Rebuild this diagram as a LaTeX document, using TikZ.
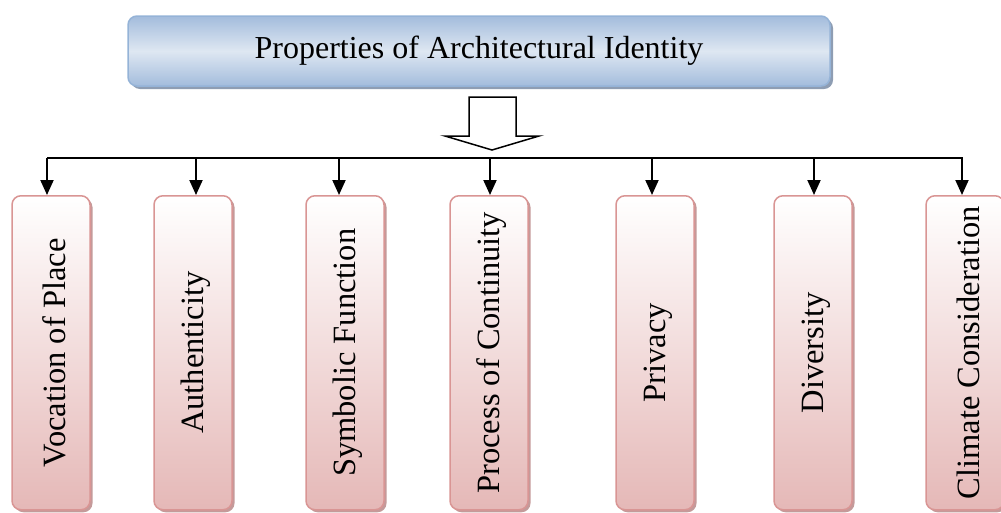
\documentclass[tikz,border=0pt]{standalone}
\usepackage{fontspec}
\setmainfont{Liberation Serif}
\usetikzlibrary{arrows.meta,shadows}
\definecolor{titleedge}{HTML}{95B3D7}
\definecolor{titledark}{HTML}{A3BCDC}
\definecolor{titlelight}{HTML}{DEE7F2}
\definecolor{titleshadow}{HTML}{8E9DB3}
\definecolor{propedge}{HTML}{D99594}
\definecolor{propfill}{HTML}{E5B8B7}
\definecolor{propshadow}{HTML}{C49A9A}
\begin{document}
\begin{tikzpicture}[x=1pt,y=-1pt,
  titlebox/.style={draw=titleedge,line width=1.5pt,rounded corners=9pt,
    minimum width=702pt,minimum height=70pt,inner sep=0pt,
    top color=titledark,bottom color=titledark,middle color=titlelight,
    drop shadow={shadow xshift=3pt,shadow yshift=-3pt,fill=titleshadow,opacity=1},
    font=\fontsize{32}{36}\selectfont},
  propbox/.style={draw=propedge,line width=1.5pt,rounded corners=9pt,
    minimum width=78pt,minimum height=314pt,inner sep=0pt,anchor=north,
    top color=white,bottom color=propfill,
    drop shadow={shadow xshift=2.5pt,shadow yshift=-2.5pt,fill=propshadow,opacity=1}},
  proptext/.style={rotate=90,font=\fontsize{32.5}{36}\selectfont,inner sep=0pt},
  feed/.style={line width=2pt,-{Triangle[length=15pt,width=13pt]}},
  hollow/.style={draw=black,line width=1.5pt,fill=white,line join=miter}]
\useasboundingbox (0,0) rectangle (1001,512);
\clip (0,0) rectangle (1001,512);

% heading
\node[titlebox] (title) at (479,51) {Properties of Architectural Identity};

% hollow down arrow under the heading
\draw[hollow] (469,97) -- (516,97) -- (516,136) -- (539,136) -- (492,150)
  -- (445,136) -- (469,136) -- cycle;

% distribution bar
\coordinate (barL) at (47,158);
\coordinate (barR) at (963,158);
\draw[line width=2pt] (barL) -- (barR);

% property boxes
\node[propbox] (p1) at (51,195) {};
\node[propbox] (p2) at (193,195) {};
\node[propbox] (p3) at (345,195) {};
\node[propbox] (p4) at (489,195) {};
\node[propbox] (p5) at (655,195) {};
\node[propbox] (p6) at (813,195) {};
\node[propbox] (p7) at (965,195) {};

\node[proptext] (t1) at ([xshift=3pt]p1.center) {Vocation of Place};
\node[proptext] (t2) at ([xshift=3pt]p2.center) {Authenticity};
\node[proptext] (t3) at ([xshift=3pt]p3.center) {Symbolic Function};
\node[proptext] (t4) at ([xshift=3pt]p4.center) {Process of Continuity};
\node[proptext] (t5) at ([xshift=3pt]p5.center) {Privacy};
\node[proptext] (t6) at ([xshift=3pt]p6.center) {Diversity};
\node[proptext] (t7) at ([xshift=3pt]p7.center) {Climate Consideration};

% drops from the bar to each box
\foreach \n/\x in {1/47,2/196,3/339,4/490,5/652,6/814,7/962}{
  \coordinate (d\n) at (\x,158);
  \draw[feed] (d\n) -- (d\n |- p\n.north);
}
\end{tikzpicture}
\end{document}
